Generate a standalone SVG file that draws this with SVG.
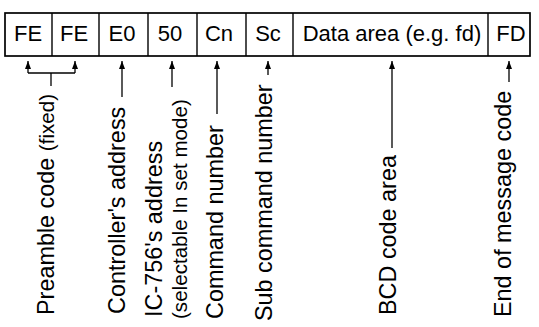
<svg xmlns="http://www.w3.org/2000/svg" width="539" height="327" viewBox="0 0 539 327">
<style>
.box{fill:#fff;stroke:#000;stroke-width:1.7}
.div{stroke:#000;stroke-width:1.4}
.lbl{font-family:"Liberation Sans",Arial,sans-serif;font-size:22px;fill:#000;text-anchor:middle}
.vt{font-family:"Liberation Sans",Arial,sans-serif;font-size:23.4px;fill:#000}
.sm{font-size:20.6px}
.ln{stroke:#000;stroke-width:1.3;fill:none}
</style>
<defs>
<marker id="ah" viewBox="0 0 8 6" refX="8" refY="3" markerWidth="8" markerHeight="6" markerUnits="userSpaceOnUse" orient="auto">
<path d="M0,0 L8,3 L0,6 z" fill="#000"/>
</marker>
</defs>
<rect width="539" height="327" fill="#fff"/>
<g id="frame">
<rect class="box" x="5" y="13" width="525" height="43"/>
<line class="div" x1="52" y1="13" x2="52" y2="56"/>
<line class="div" x1="99" y1="13" x2="99" y2="56"/>
<line class="div" x1="148" y1="13" x2="148" y2="56"/>
<line class="div" x1="197" y1="13" x2="197" y2="56"/>
<line class="div" x1="246" y1="13" x2="246" y2="56"/>
<line class="div" x1="293" y1="13" x2="293" y2="56"/>
<line class="div" x1="488" y1="13" x2="488" y2="56"/>
</g>
<g id="cell-fe1"><text class="lbl" x="28" y="41">FE</text></g>
<g id="cell-fe2"><text class="lbl" x="74" y="41">FE</text></g>
<g id="cell-e0"><text class="lbl" x="122" y="41">E0</text></g>
<g id="cell-50"><text class="lbl" x="170" y="41">50</text></g>
<g id="cell-cn"><text class="lbl" x="219" y="41">Cn</text></g>
<g id="cell-sc"><text class="lbl" x="268" y="41">Sc</text></g>
<g id="cell-data"><text class="lbl" x="392" y="41">Data area (e.g. fd)</text></g>
<g id="cell-fd"><text class="lbl" x="511" y="41">FD</text></g>

<g id="connectors">
<line class="ln" x1="28" y1="73" x2="28" y2="61" marker-end="url(#ah)"/>
<line class="ln" x1="75" y1="73" x2="75" y2="61" marker-end="url(#ah)"/>
<polyline class="ln" points="28,73 75,73"/>
<line class="ln" x1="51" y1="86" x2="51" y2="73"/>
<line class="ln" x1="122" y1="97" x2="122" y2="61" marker-end="url(#ah)"/>
<line class="ln" x1="172" y1="87" x2="172" y2="61" marker-end="url(#ah)"/>
<line class="ln" x1="217" y1="114" x2="217" y2="61" marker-end="url(#ah)"/>
<line class="ln" x1="268" y1="75" x2="268" y2="61" marker-end="url(#ah)"/>
<line class="ln" x1="392" y1="148" x2="392" y2="61" marker-end="url(#ah)"/>
<line class="ln" x1="509" y1="82" x2="509" y2="61" marker-end="url(#ah)"/>
</g>

<g id="label-preamble"><text class="vt" transform="translate(54,315) rotate(-90)">Preamble code <tspan class="sm">(fixed)</tspan></text></g>
<g id="label-controller"><text class="vt" transform="translate(125,314) rotate(-90)">Controller's address</text></g>
<g id="label-ic756"><text class="vt" transform="translate(162,317) rotate(-90)">IC-756's address</text>
<text class="vt sm" transform="translate(187,319) rotate(-90)">(selectable In set mode)</text></g>
<g id="label-command"><text class="vt" transform="translate(223,319) rotate(-90)">Command number</text></g>
<g id="label-sub"><text class="vt" transform="translate(272,321) rotate(-90)">Sub command number</text></g>
<g id="label-bcd"><text class="vt" transform="translate(396,315) rotate(-90)">BCD code area</text></g>
<g id="label-end"><text class="vt" transform="translate(511,317) rotate(-90)">End of message code</text></g>
</svg>
